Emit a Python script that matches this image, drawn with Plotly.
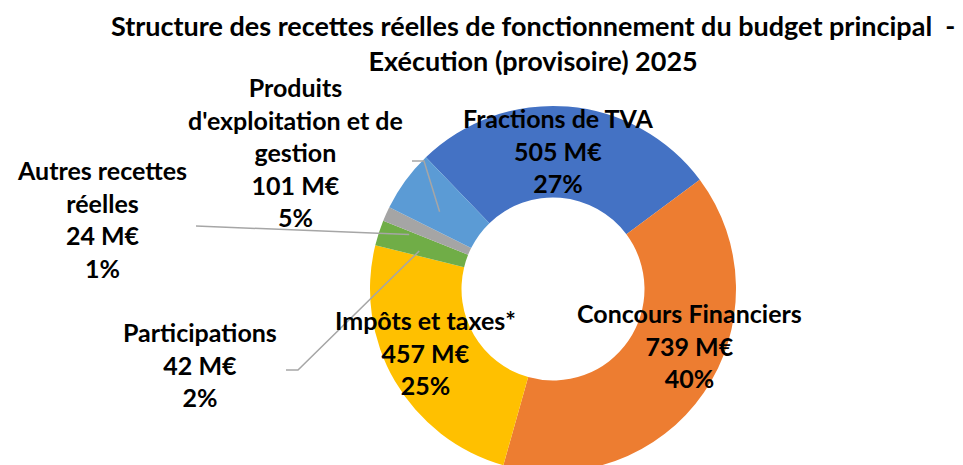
import math
import plotly.graph_objects as go

# ---------------- data ----------------
categories = ["Fractions de TVA", "Concours Financiers", "Impôts et taxes*",
              "Participations", "Autres recettes réelles",
              "Produits d'exploitation et de gestion"]
values = [505, 739, 457, 42, 24, 101]          # M€
percent_labels = ["27%", "40%", "25%", "2%", "1%", "5%"]
name_lines = [["Fractions de TVA"], ["Concours Financiers"], ["Impôts et taxes*"],
              ["Participations"], ["Autres recettes", "réelles"],
              ["Produits", "d'exploitation et de", "gestion"]]
colors = ["#4472C4", "#ED7D31", "#FFC000", "#70AD47", "#A5A5A5", "#5B9BD5"]

title_lines = ["Structure des recettes réelles de fonctionnement du budget principal  -",
               "Exécution (provisoire) 2025"]

# ---------------- layout constants ----------------
W, H = 963, 465
CX, CY, R = 545, 281, 183
ROT = -44
HOLE = 0.5
FONT = "Lato"
TXT = "#000000"
LEADER = "#A6A6A6"
YOFF = -9  # compensate plotly's multi-line text baseline offset

# label centres (pixels) for each category
label_pos = [(550, 151), (681, 346), (417, 353), (192, 365), (94, 220), (287, 153)]
# leader line start (label side) with optional elbow, for outside labels
leader_start = {3: [(278, 362), (290, 362)], 4: [(188, 218)], 5: [(404, 153), (416, 153)]}
leader_radius = {3: 0.76, 4: 0.84, 5: 0.75}
leader_shift = {3: -2.0, 4: -3.5, 5: -2.0}   # degrees

fig = go.Figure()

fig.add_trace(go.Pie(
    labels=categories, values=values, sort=False, direction="clockwise",
    rotation=ROT, hole=HOLE, marker=dict(colors=colors, line=dict(width=0)),
    textinfo="none", hoverinfo="label+value+percent", showlegend=False,
    domain=dict(x=[(CX - R) / W, (CX + R) / W], y=[1 - (CY + R) / H, 1 - (CY - R) / H]),
))

# invisible pixel-space axes for annotations / leader lines
fig.add_trace(go.Scatter(x=[0, W], y=[0, H], mode="markers",
                         marker=dict(opacity=0), hoverinfo="skip", showlegend=False))

annotations = []
annotations.append(dict(x=525, y=44 + YOFF, xref="x", yref="y", text="<br>".join(title_lines),
                        showarrow=False, xanchor="center", yanchor="middle", align="center",
                        font=dict(family=FONT, size=27, color=TXT, weight="bold")))

total = sum(values)
for i, cat in enumerate(categories):
    lines = name_lines[i] + [f"{values[i]} M€", percent_labels[i]]
    x, y = label_pos[i]
    annotations.append(dict(x=x, y=y + YOFF, xref="x", yref="y", text="<br>".join(lines),
                            showarrow=False, xanchor="center", yanchor="middle", align="center",
                            font=dict(family=FONT, size=25, color=TXT, weight="bold")))

# leader lines from labels to the slice (anchor computed from slice angle)
shapes = []
cum = 0
mids = []
for v in values:
    mids.append(ROT + (cum + v / 2) / total * 360)
    cum += v
for i, pts in leader_start.items():
    a = math.radians(mids[i] + leader_shift[i])
    rr = leader_radius[i] * R
    anchor = (CX + rr * math.sin(a), CY - rr * math.cos(a))
    path_pts = pts + [anchor]
    path = "M " + " L ".join(f"{px:.1f},{py:.1f}" for px, py in path_pts)
    shapes.append(dict(type="path", path=path, xref="x", yref="y",
                       line=dict(color=LEADER, width=1.5), layer="above"))

fig.update_layout(
    width=W, height=H, margin=dict(l=0, r=0, t=0, b=0),
    paper_bgcolor="white", plot_bgcolor="rgba(0,0,0,0)",
    xaxis=dict(range=[0, W], visible=False, fixedrange=True, domain=[0, 1]),
    yaxis=dict(range=[H, 0], visible=False, fixedrange=True, domain=[0, 1]),
    annotations=annotations, shapes=shapes, showlegend=False,
)

fig.write_html("out.html")
